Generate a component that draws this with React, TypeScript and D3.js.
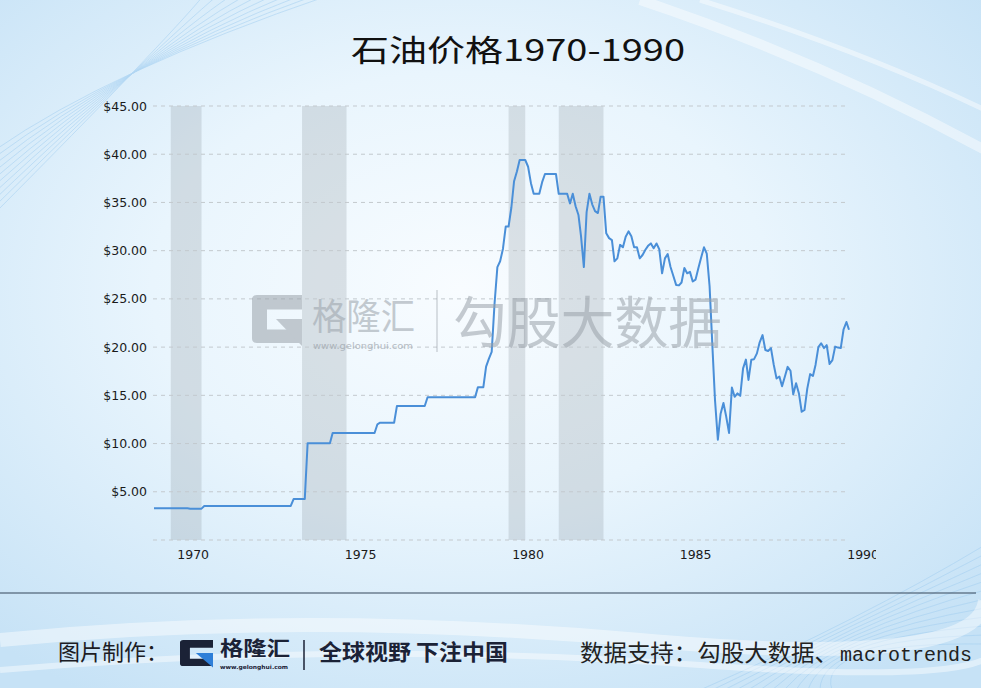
import { useEffect, useRef } from "react";
import * as d3 from "d3";

const WIDTH = 981;
const HEIGHT = 688;
const PLOT = { left: 154, right: 849, top: 106, bottom: 540 };

const CJK = "'Noto Sans CJK SC', 'Noto Sans', sans-serif";
const AXIS_FONT = "'DejaVu Sans', Verdana, sans-serif";
const LINE_COLOR = "#4a8fd8";

// monthly WTI price turning points
const MONTHS = [
  "1969-06", "1970-06", "1970-07", "1970-11", "1970-12", "1973-07", "1973-08", "1973-12",
  "1974-01", "1974-09", "1974-10", "1976-01", "1976-02", "1976-03", "1976-08", "1976-09",
  "1977-07", "1977-08", "1979-01", "1979-02", "1979-04", "1979-05", "1979-06", "1979-07",
  "1979-08", "1979-09", "1979-10", "1979-11", "1979-12", "1980-01", "1980-02", "1980-03",
  "1980-04", "1980-05", "1980-07", "1980-08", "1980-09", "1980-10", "1980-12", "1981-01",
  "1981-02", "1981-06", "1981-07", "1981-10", "1981-11", "1981-12", "1982-01", "1982-02",
  "1982-03", "1982-04", "1982-05", "1982-06", "1982-07", "1982-08", "1982-09", "1982-10",
  "1982-11", "1982-12", "1983-01", "1983-02", "1983-03", "1983-04", "1983-05", "1983-06",
  "1983-07", "1983-08", "1983-09", "1983-10", "1983-11", "1983-12", "1984-01", "1984-02",
  "1984-03", "1984-04", "1984-05", "1984-06", "1984-07", "1984-08", "1984-09", "1984-10",
  "1984-11", "1984-12", "1985-01", "1985-02", "1985-03", "1985-04", "1985-05", "1985-06",
  "1985-07", "1985-08", "1985-09", "1985-10", "1985-11", "1985-12", "1986-01", "1986-02",
  "1986-03", "1986-04", "1986-05", "1986-06", "1986-07", "1986-08", "1986-09", "1986-10",
  "1986-11", "1986-12", "1987-01", "1987-02", "1987-03", "1987-04", "1987-05", "1987-06",
  "1987-07", "1987-08", "1987-09", "1987-10", "1987-11", "1987-12", "1988-01", "1988-02",
  "1988-03", "1988-04", "1988-05", "1988-06", "1988-07", "1988-08", "1988-09", "1988-10",
  "1988-11", "1988-12", "1989-01", "1989-02", "1989-03", "1989-04", "1989-05", "1989-06",
  "1989-07", "1989-08", "1989-09", "1989-10", "1989-11", "1989-12", "1990-01", "1990-02",
  "1990-03",
];
const PRICES = [
  3.29, 3.29, 3.25, 3.25, 3.53, 3.53, 4.25, 4.25,
  10.03, 10.03, 11.1, 11.1, 12.0, 12.16, 12.16, 13.9,
  13.9, 14.8, 14.8, 15.85, 15.85, 17.97, 18.8, 19.5,
  24.5, 28.3, 28.9, 30.2, 32.5, 32.5, 34.5, 37.2,
  38.2, 39.4, 39.4, 38.7, 37.0, 35.9, 35.9, 37.1,
  37.95, 37.95, 35.9, 35.9, 34.9, 35.9, 34.6, 33.7,
  31.5, 28.3, 34.0, 35.9, 34.8, 34.1, 33.9, 35.6,
  35.6, 31.8, 31.3, 31.1, 28.9, 29.2, 30.6, 30.35,
  31.45, 32.0, 31.5, 30.35, 30.35, 29.2, 29.55, 30.1,
  30.5, 30.75, 30.25, 30.75, 30.15, 27.65, 29.2, 29.65,
  28.3, 27.4, 26.45, 26.4, 26.7, 28.2, 27.65, 27.8,
  26.8, 27.0, 28.2, 29.3, 30.35, 29.7, 26.3, 20.0,
  14.5, 10.4, 13.1, 14.2, 12.8, 11.1, 15.8, 14.85,
  15.2, 14.95, 17.8, 18.7, 16.6, 18.7, 18.75, 19.35,
  20.5, 21.25, 19.7, 19.6, 19.9, 18.2, 16.75, 16.95,
  15.95, 16.95, 17.95, 17.55, 15.1, 16.25, 15.2, 13.3,
  13.5, 15.7, 17.2, 17.0, 18.15, 20.0, 20.4, 19.9,
  20.2, 18.25, 18.65, 20.05, 19.95, 19.9, 21.85, 22.6,
  21.8,
];

// US recessions (shaded)
const RECESSION_START = ["1969-12", "1973-11", "1980-01", "1981-07"];
const RECESSION_END = ["1970-11", "1975-03", "1980-07", "1982-11"];

const Y_TICKS = [0, 5, 10, 15, 20, 25, 30, 35, 40, 45];
const X_TICK_YEARS = ["1970", "1975", "1980", "1985", "1990"];

const parseMonth = d3.timeParse("%Y-%m");

// square "G" mark of the brand, in a unit box
function GLogo({ x, y, w, h, body, accent, opacity = 1 }: any) {
  return (
    <g transform={`translate(${x},${y}) scale(${w},${h})`} opacity={opacity}>
      <path
        fillRule="evenodd"
        fill={body}
        d="M0.1,0 H1 V0.3 H0.3 V0.72 H1 V1 H0.1 Q0,1 0,0.9 V0.1 Q0,0 0.1,0 Z"
      />
      <path fill={accent} d="M0.48,0.5 H1 V1.06 Z" />
    </g>
  );
}

export default function App() {
  const chartRef = useRef<SVGGElement>(null);

  useEffect(() => {
    const g = d3.select(chartRef.current);
    g.selectAll("*").remove();

    const data = MONTHS.map((m, i) => ({ date: parseMonth(m) as Date, value: PRICES[i] }));

    const x = d3
      .scaleTime()
      .domain([parseMonth(MONTHS[0]) as Date, parseMonth(MONTHS[MONTHS.length - 1]) as Date])
      .range([PLOT.left, PLOT.right]);
    const y = d3.scaleLinear().domain([0, 45]).range([PLOT.bottom, PLOT.top]);

    // recession bands
    RECESSION_START.forEach((s, i) => {
      const x0 = x(parseMonth(s) as Date);
      const x1 = x(parseMonth(RECESSION_END[i]) as Date);
      g.append("rect")
        .attr("x", x0)
        .attr("y", y(45))
        .attr("width", x1 - x0)
        .attr("height", y(0) - y(45))
        .attr("fill", "#8f9aa3")
        .attr("opacity", 0.27);
    });

    // dashed grid
    Y_TICKS.forEach((v) => {
      g.append("line")
        .attr("x1", PLOT.left - 1)
        .attr("x2", PLOT.right - 1)
        .attr("y1", y(v))
        .attr("y2", y(v))
        .attr("stroke", "#c3c9ce")
        .attr("stroke-width", 1)
        .attr("stroke-dasharray", "4,4");
    });

    // y labels
    const fmt = d3.format("$.2f");
    Y_TICKS.filter((v) => v > 0).forEach((v) => {
      g.append("text")
        .attr("x", 147)
        .attr("y", y(v))
        .attr("dy", "0.36em")
        .attr("text-anchor", "end")
        .attr("font-family", AXIS_FONT)
        .attr("font-size", "12.5px")
        .attr("fill", "#1a1a1a")
        .text(fmt(v));
    });

    // x axis labels (sit a little right of the year start, clipped at the edge)
    const axis = d3
      .axisBottom(x)
      .tickValues(X_TICK_YEARS.map((yr) => d3.timeParse("%Y")(yr) as Date))
      .tickFormat((d) => d3.timeFormat("%Y")(d as Date))
      .tickSize(0);
    const ax = g
      .append("g")
      .attr("transform", `translate(0,${PLOT.bottom})`)
      .attr("clip-path", "url(#axisClip)")
      .call(axis);
    ax.select(".domain").remove();
    ax.selectAll("text")
      .attr("y", 10)
      .attr("dx", 19)
      .attr("font-family", AXIS_FONT)
      .attr("font-size", "12.5px")
      .attr("fill", "#1a1a1a");

    // price line
    const line = d3
      .line<{ date: Date; value: number }>()
      .x((d) => x(d.date))
      .y((d) => y(d.value));
    g.append("path")
      .datum(data)
      .attr("d", line)
      .attr("fill", "none")
      .attr("stroke", LINE_COLOR)
      .attr("stroke-width", 2)
      .attr("stroke-linejoin", "round");
  }, []);

  const tlLines = d3.range(10);
  const brLines = d3.range(12);

  return (
    <svg
      width={WIDTH}
      height={HEIGHT}
      style={{ position: "absolute", left: 0, top: 0 }}
    >
      <defs>
        <radialGradient id="bg" cx="0.47" cy="0.42" r="0.7">
          <stop offset="0" stopColor="#f8fcff" />
          <stop offset="0.45" stopColor="#e9f5fd" />
          <stop offset="1" stopColor="#c6e2f6" />
        </radialGradient>
        <clipPath id="axisClip">
          <rect x={0} y={-10} width={876} height={60} />
        </clipPath>
      </defs>
      <rect width={WIDTH} height={HEIGHT} fill="url(#bg)" />

      {/* decorative lines */}
      <g fill="none" stroke="#9fcdf0" strokeWidth={0.7} opacity={0.7}>
        {tlLines.map((i) => (
          <path key={i} d={`M-5,${150 + i * 7} Q${110 + i * 6},${70 - i * 3} ${330 - i * 14},-5`} />
        ))}
        {brLines.map((i) => (
          <path key={i} d={`M${700 + i * 12},690 Q${860 - i * 4},${620 + i * 2} 985,${545 + i * 9}`} />
        ))}
      </g>
      <g fill="none" stroke="#ffffff" opacity={0.45}>
        <path d="M640,0 Q820,60 985,150" strokeWidth={10} />
        <path d="M700,0 Q860,50 985,110" strokeWidth={5} />
        <path d="M0,640 Q300,610 640,640 T985,600" strokeWidth={14} />
        <path d="M0,670 Q350,640 700,665 T985,630" strokeWidth={6} />
      </g>

      {/* title */}
      <text
        x={351}
        y={61}
        textLength={334}
        lengthAdjust="spacingAndGlyphs"
        fontFamily={CJK}
        fontSize={30}
        fill="#111"
      >
        石油价格1970-1990
      </text>

      <g ref={chartRef} />

      {/* watermark */}
      <g>
        <GLogo x={252} y={295} w={50} h={48} body="#9aa2aa" accent="#9aa2aa" opacity={0.55} />
        <text x={312} y={330} textLength={103} lengthAdjust="spacingAndGlyphs" fontFamily={CJK} fontSize={36} fill="#9aa2aa" opacity={0.55}>
          格隆汇
        </text>
        <text x={313} y={349} textLength={100} lengthAdjust="spacingAndGlyphs" fontFamily={AXIS_FONT} fontSize={8} fill="#9aa2aa" opacity={0.7}>
          www.gelonghui.com
        </text>
        <line x1={437} x2={437} y1={290} y2={352} stroke="#9aa2aa" strokeWidth={1.2} opacity={0.55} />
        <text x={453} y={343} textLength={269} lengthAdjust="spacingAndGlyphs" fontFamily={CJK} fontSize={56} fill="#9aa2aa" opacity={0.55}>
          勾股大数据
        </text>
      </g>

      {/* footer */}
      <line x1={0} x2={976} y1={593} y2={593} stroke="#34465a" strokeWidth={1.2} />
      <text x={58} y={660} fontFamily={CJK} fontSize={22} fill="#1c1c24">
        图片制作：
      </text>
      <GLogo x={180} y={640} w={33} h={26} body="#1b2236" accent="#2f7fd8" />
      <text x={220} y={656} textLength={70} lengthAdjust="spacingAndGlyphs" fontFamily={CJK} fontWeight="bold" fontSize={20} fill="#1b2236">
        格隆汇
      </text>
      <text x={220} y={669} textLength={68} lengthAdjust="spacingAndGlyphs" fontFamily={AXIS_FONT} fontWeight="bold" fontSize={5.5} fill="#1b2236">
        www.gelonghui.com
      </text>
      <line x1={304} x2={304} y1={640} y2={670} stroke="#1b2236" strokeWidth={1.5} />
      <text x={319} y={660} textLength={189} lengthAdjust="spacingAndGlyphs" fontFamily={CJK} fontWeight="bold" fontSize={22} fill="#1b2236">
        全球视野 下注中国
      </text>
      <text x={580} y={661} textLength={258} lengthAdjust="spacingAndGlyphs" fontFamily={CJK} fontSize={23} fill="#222">
        数据支持：勾股大数据、
      </text>
      <text x={840} y={661} textLength={132} lengthAdjust="spacingAndGlyphs" fontFamily="'Liberation Mono', monospace" fontSize={20} fill="#222">
        macrotrends
      </text>
    </svg>
  );
}
